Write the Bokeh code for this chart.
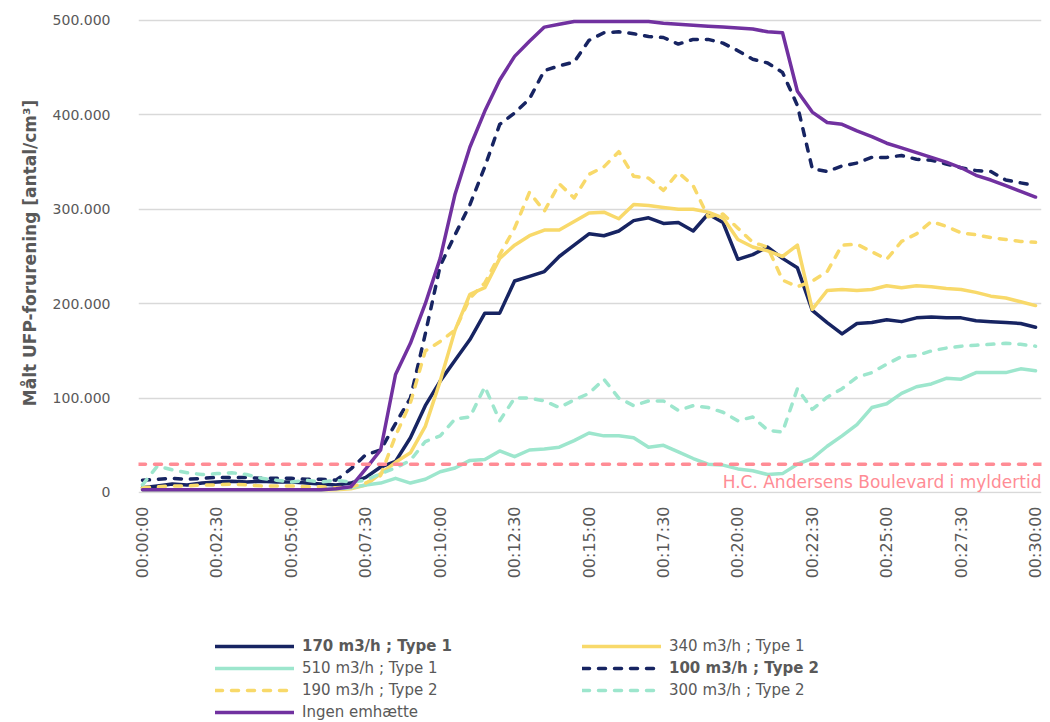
import math
from bokeh.plotting import figure
from bokeh.layouts import column
from bokeh.models import (Range1d, FixedTicker, CustomJSTickFormatter, Span, Label,
                          Legend, LegendItem)
from bokeh.embed import file_html
from bokeh.resources import INLINE

# ---------------- data ----------------
# time in minutes since start (every 30 s)
TIME_MIN = [0, 0.5, 1, 1.5, 2, 2.5, 3, 3.5, 4, 4.5, 5, 5.5, 6, 6.5, 7, 7.5, 8, 8.5, 9, 9.5,
            10, 10.5, 11, 11.5, 12, 12.5, 13, 13.5, 14, 14.5, 15, 15.5, 16, 16.5, 17, 17.5,
            18, 18.5, 19, 19.5, 20, 20.5, 21, 21.5, 22, 22.5, 23, 23.5, 24, 24.5, 25, 25.5,
            26, 26.5, 27, 27.5, 28, 28.5, 29, 29.5, 30]

TICK_MIN = [0, 2.5, 5, 7.5, 10, 12.5, 15, 17.5, 20, 22.5, 25, 27.5, 30]
TICK_LABELS = ["00:00:00", "00:02:30", "00:05:00", "00:07:30", "00:10:00", "00:12:30",
               "00:15:00", "00:17:30", "00:20:00", "00:22:30", "00:25:00", "00:27:30",
               "00:30:00"]
Y_TICKS = [0, 100000, 200000, 300000, 400000, 500000]

THRESHOLD = 30000
THRESHOLD_LABEL = "H.C. Andersens Boulevard i myldertid"
Y_TITLE = "Målt UFP-forurening [antal/cm³]"

# series values in thousand particles / cm3
S170_T1 = [5, 7, 9, 8, 10, 11, 12, 11, 12, 11, 11, 10, 9, 8, 10, 16, 27, 33, 58, 92,
           118, 140, 162, 190, 190, 224, 229, 234, 250, 262, 274, 272, 277, 288, 291, 285,
           286, 277, 295, 286, 247, 252, 260, 248, 238, 193, 180, 168, 179, 180, 183, 181,
           185, 186, 185, 185, 182, 181, 180, 179, 175]
S340_T1 = [3, 3, 3, 3, 3, 3, 3, 3, 3, 3, 3, 3, 3, 3, 4, 8, 20, 32, 42, 70,
           118, 172, 210, 217, 248, 262, 272, 278, 278, 287, 296, 297, 290, 305, 304, 302,
           300, 300, 297, 291, 268, 260, 256, 250, 262, 194, 214, 215, 214, 215, 219, 217,
           219, 218, 216, 215, 212, 208, 206, 202, 198]
S510_T1 = [3, 3, 3, 3, 3, 3, 3, 3, 3, 3, 3, 3, 3, 4, 5, 8, 10, 15, 10, 14,
           22, 26, 34, 35, 44, 38, 45, 46, 48, 55, 63, 60, 60, 58, 48, 50,
           43, 36, 30, 29, 25, 23, 19, 20, 30, 36, 49, 60, 72, 90, 94, 105,
           112, 115, 121, 120, 127, 127, 127, 131, 129]
S100_T2 = [13, 14, 15, 14, 15, 16, 16, 16, 15, 15, 15, 14, 14, 13, 25, 40, 45, 73, 100, 168,
           240, 273, 305, 345, 390, 402, 417, 447, 452, 456, 479, 487, 488, 486, 483, 482,
           475, 480, 480, 476, 468, 459, 455, 445, 410, 343, 340, 346, 349, 355, 355, 357,
           353, 352, 348, 344, 341, 340, 331, 328, 325]
S190_T2 = [5, 6, 7, 7, 8, 8, 9, 8, 7, 7, 7, 6, 6, 5, 6, 10, 18, 60, 95, 150,
           160, 172, 206, 222, 252, 280, 318, 298, 327, 312, 337, 345, 361, 335, 333, 320,
           339, 325, 292, 295, 280, 265, 260, 225, 218, 224, 234, 262, 263, 255, 247, 266,
           274, 287, 282, 275, 273, 270, 268, 266, 265]
S300_T2 = [8, 28, 24, 21, 19, 20, 21, 19, 15, 13, 11, 13, 11, 13, 11, 13, 20, 26, 34, 54,
           60, 78, 80, 112, 76, 100, 100, 97, 90, 98, 105, 120, 100, 92, 97, 97,
           87, 92, 90, 85, 76, 80, 66, 64, 110, 88, 101, 110, 122, 127, 136, 144,
           145, 150, 153, 155, 156, 157, 158, 157, 155]
S_NONE = [3, 3, 3, 3, 3, 3, 3, 3, 3, 3, 3, 3, 3, 4, 6, 25, 45, 125, 158, 200,
          248, 316, 366, 404, 437, 462, 478, 493, 496, 499, 499, 499, 499, 499, 499, 497,
          496, 495, 494, 493, 492, 491, 488, 487, 425, 403, 392, 390, 383, 377, 370, 365,
          360, 355, 350, 344, 336, 331, 325, 319, 313]

NAMES = ["170 m3/h ; Type 1", "340 m3/h ; Type 1", "510 m3/h ; Type 1",
         "100 m3/h ; Type 2", "190 m3/h ; Type 2", "300 m3/h ; Type 2", "Ingen emhætte"]
VALUES = [S170_T1, S340_T1, S510_T1, S100_T2, S190_T2, S300_T2, S_NONE]

# ---------------- style ----------------
NAVY = "#172462"
YELLOW = "#f8d96a"
MINT = "#9de6cd"
PURPLE = "#7131a0"
PINK = "#ff8c95"
GRAY = "#595959"
GRID = "#d9d9d9"
FONT = "DejaVu Sans"

COLORS = [NAVY, YELLOW, MINT, NAVY, YELLOW, MINT, PURPLE]
DASHES = ["solid", "solid", "solid", "7 9", "7 9", "7 9", "solid"]
LINE_W = 3.5

FRAME_W = 903
BORDER_L = 138
BORDER_R = 9

# ---------------- main chart ----------------
p = figure(frame_width=FRAME_W, frame_height=481,
           min_border_left=BORDER_L, min_border_right=BORDER_R, min_border_top=12,
           min_border_bottom=100,
           x_range=Range1d(-0.134, 30.2), y_range=Range1d(-1060, 508470),
           output_backend="svg", toolbar_location=None,
           background_fill_color="white", border_fill_color="white")
p.outline_line_color = None

for name, vals, col, dash in zip(NAMES, VALUES, COLORS, DASHES):
    ys = [v * 1000 for v in vals]
    p.line(TIME_MIN, ys, line_color=col, line_width=LINE_W, line_dash=dash,
           line_cap="round", line_join="round")

# threshold line
p.add_layout(Span(location=THRESHOLD, dimension="width", line_color=PINK,
                  line_width=LINE_W, line_dash="7 9", line_cap="round"))
p.add_layout(Label(x=30.2, y=0, text=THRESHOLD_LABEL, text_align="right",
                   text_baseline="bottom", text_font=FONT, text_font_size="17px",
                   text_color=PINK))

# axes
p.xgrid.visible = False
p.ygrid.ticker = FixedTicker(ticks=Y_TICKS)
p.ygrid.grid_line_color = GRID
p.ygrid.grid_line_width = 1.3

yax = p.yaxis[0]
yax.ticker = FixedTicker(ticks=Y_TICKS)
yax.formatter = CustomJSTickFormatter(
    code="return tick.toFixed(0).replace(/\\B(?=(\\d{3})+(?!\\d))/g, '.');")
yax.axis_line_color = None
yax.major_tick_line_color = None
yax.minor_tick_line_color = None
yax.major_tick_out = 0
yax.major_tick_in = 0
yax.major_label_standoff = 28
yax.major_label_text_font = FONT
yax.major_label_text_font_size = "14px"
yax.major_label_text_color = GRAY
yax.axis_label = Y_TITLE
yax.axis_label_text_font = FONT
yax.axis_label_text_font_size = "17px"
yax.axis_label_text_font_style = "bold"
yax.axis_label_text_color = GRAY
yax.axis_label_standoff = 10

xax = p.xaxis[0]
xax.ticker = FixedTicker(ticks=TICK_MIN)
xax.formatter = CustomJSTickFormatter(
    args=dict(tick_vals=TICK_MIN, tick_labels=TICK_LABELS),
    code="const i = tick_vals.indexOf(tick); return i >= 0 ? tick_labels[i] : '';")
xax.axis_line_color = None
xax.major_tick_line_color = None
xax.minor_tick_line_color = None
xax.major_tick_out = 0
xax.major_tick_in = 0
xax.major_label_orientation = math.pi / 2
xax.major_label_standoff = 13
xax.major_label_text_font = FONT
xax.major_label_text_font_size = "16px"
xax.major_label_text_color = GRAY

# ---------------- legend panel below ----------------
LEG_H = 129
pl = figure(frame_width=FRAME_W, frame_height=LEG_H,
            min_border_left=BORDER_L, min_border_right=BORDER_R,
            min_border_top=0, min_border_bottom=0,
            x_range=Range1d(0, FRAME_W), y_range=Range1d(0, LEG_H),
            output_backend="svg", toolbar_location=None,
            background_fill_color="white", border_fill_color="white")
pl.outline_line_color = None
pl.axis.visible = False
pl.grid.visible = False

# legend-only renderers (no visible data)
leg_renderers = []
for col, dash in zip(COLORS, DASHES):
    r = pl.line(x=[float("nan")], y=[float("nan")], line_color=col, line_width=LINE_W,
                line_dash=dash, line_cap="round", line_join="round")
    leg_renderers.append(r)


def add_legend(idx_list, x, row0, bold):
    items = [LegendItem(label=NAMES[i], renderers=[leg_renderers[i]]) for i in idx_list]
    n = len(items)
    y_bottom = 88 - 22 * (row0 + n)
    leg = Legend(items=items, location=(x, y_bottom), orientation="vertical",
                 glyph_width=79, glyph_height=20, label_height=20, label_standoff=8,
                 spacing=2, padding=0, margin=0, border_line_color=None,
                 background_fill_alpha=0, label_text_font=FONT,
                 label_text_font_size="15px", label_text_color=GRAY,
                 label_text_font_style="bold" if bold else "normal")
    pl.add_layout(leg)


COL1_X = 215 - BORDER_L
COL2_X = 582 - BORDER_L
add_legend([0], COL1_X, 0, True)
add_legend([2, 4, 6], COL1_X, 1, False)
add_legend([1], COL2_X, 0, False)
add_legend([3], COL2_X, 1, True)
add_legend([5], COL2_X, 2, False)

layout = column(p, pl, spacing=0)
open("out.html", "w").write(file_html(layout, INLINE))
